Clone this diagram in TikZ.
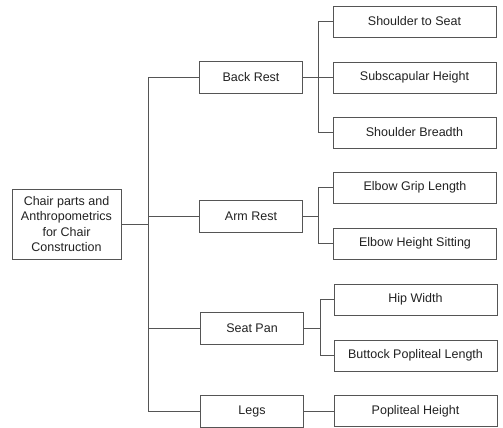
\documentclass[tikz,border=0pt]{standalone}
\usepackage{fontspec}
\setmainfont{Liberation Sans}
\definecolor{linegray}{HTML}{555555}
\definecolor{txt}{HTML}{222222}
\begin{document}
\begin{tikzpicture}[x=1pt,y=-1pt,
  box/.style={draw=linegray, line width=0.7pt, text=txt, inner sep=0pt,
    font=\fontsize{12.5}{15.5}\selectfont, align=center},
  rootbox/.style={box, minimum width=109pt, minimum height=70pt},
  midbox/.style={box, minimum width=103pt, minimum height=32pt},
  leafbox/.style={box, minimum width=163pt, minimum height=31pt},
  conn/.style={draw=linegray, line width=0.6pt}
]
\useasboundingbox (0,0) rectangle (503,428);
\fill[white] (0,0) rectangle (503,428);

\node[rootbox] (root) at (66.5,224) {Chair parts and\\Anthropometrics\\for Chair\\Construction};

\node[midbox] (br) at (251,77.5) {Back Rest};
\node[midbox] (ar) at (251,216) {Arm Rest};
\node[midbox] (sp) at (252,328) {Seat Pan};
\node[midbox] (lg) at (252,411) {Legs};

\node[leafbox] (l1) at (414.5,21.5) {Shoulder to Seat};
\node[leafbox] (l2) at (414.5,77.5) {Subscapular Height};
\node[leafbox] (l3) at (414.5,132.5) {Shoulder Breadth};
\node[leafbox] (l4) at (415,187.5) {Elbow Grip Length};
\node[leafbox] (l5) at (415,243.5) {Elbow Height Sitting};
\node[leafbox] (l6) at (415.5,299.5) {Hip Width};
\node[leafbox] (l7) at (415.5,355.5) {Buttock Popliteal Length};
\node[leafbox] (l8) at (415.5,411) {Popliteal Height};

\coordinate (j1) at (148,224);
\coordinate (j2) at (318,77.5);
\coordinate (j3) at (318.5,216);
\coordinate (j4) at (320,328);

\draw[conn] (root.east) -- (j1);
\draw[conn] (br.west) -| (j1);
\draw[conn] (ar.west) -| (j1);
\draw[conn] (sp.west) -| (j1);
\draw[conn] (lg.west) -| (j1);

\draw[conn] (br.east) -- (j2);
\draw[conn] (l1.west) -| (j2);
\draw[conn] (l2.west) -- (j2);
\draw[conn] (l3.west) -| (j2);

\draw[conn] (ar.east) -- (j3);
\draw[conn] (l4.west) -| (j3);
\draw[conn] (l5.west) -| (j3);

\draw[conn] (sp.east) -- (j4);
\draw[conn] (l6.west) -| (j4);
\draw[conn] (l7.west) -| (j4);

\draw[conn] (lg.east) -- (l8.west);
\end{tikzpicture}
\end{document}
